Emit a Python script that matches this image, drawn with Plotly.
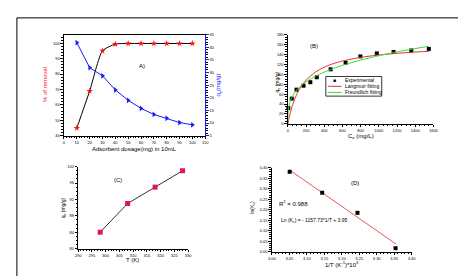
import plotly.graph_objects as go

W, H = 466, 276

# ---- Panel A data ----
dosage = [10, 20, 30, 40, 50, 60, 70, 80, 90, 100]
removal = [45, 69, 95, 99.4, 99.8, 99.8, 99.8, 99.8, 99.8, 99.8]
qe_dose = [41.8, 31.9, 28.7, 23.1, 19.0, 15.8, 13.4, 11.9, 10.2, 9.3]

# ---- Panel B data ----
ce = [5, 43, 95, 172, 247, 318, 470, 635, 797, 978, 1162, 1357, 1550]
qe_iso = [32, 51, 69, 77, 84, 94, 110, 123, 136, 142, 145, 148, 151]
ce_lang = [0, 10, 25, 50, 100, 150, 200, 300, 400, 500, 600, 800, 1000, 1200, 1400, 1550]
q_lang = [0, 9.2, 21.1, 37.4, 60.8, 76.7, 88.4, 104.1, 114.4, 121.5, 126.8, 134.1, 138.9, 142.2, 144.8, 146.3]
ce_freu = [0, 1, 3, 10, 25, 50, 100, 150, 200, 300, 400, 500, 600, 800, 1000, 1200, 1400, 1550]
q_freu = [0, 17.3, 24.0, 34.5, 45.4, 55.9, 68.9, 77.9, 84.8, 95.8, 104.4, 111.6, 117.9, 128.6, 137.4, 145.0, 151.8, 156.4]
legend_labels = ["Experimental", "Langmuir fitting", "Freundlich fitting"]

# ---- Panel C data ----
temp = [298, 308, 318, 328]
qe_temp = [84, 91, 95, 99]

# ---- Panel D data ----
inv_t = [3.051, 3.144, 3.245, 3.354]
ln_kc = [0.381, 0.281, 0.185, 0.016]
fit_x = [3.051, 3.356]
fit_y = [0.389, 0.035]

RED = "#e03030"
GREEN = "#33dd33"
BLUE = "#1a1aff"
FONT = "Arial, Liberation Sans, sans-serif"


def px(x):
    return x / W


def py(y):
    return 1 - y / H


TF = dict(family=FONT, size=4, color="black")


def axis(domain, rng, dtick, anchor, **kw):
    d = dict(domain=domain, range=rng, dtick=dtick, anchor=anchor,
             showline=True, linecolor="black", linewidth=1,
             ticks="outside", ticklen=2.5, tickwidth=0.8, tickcolor="black",
             showgrid=False, zeroline=False, tickfont=TF,
             minor=dict(ticks="outside", ticklen=1.5, tickwidth=0.6, tickcolor="black"))
    d.update(kw)
    return d


fig = go.Figure()

# Panel A
fig.add_trace(go.Scatter(x=dosage, y=removal, mode="lines+markers", xaxis="x", yaxis="y",
                         line=dict(color="black", width=1, shape="spline", smoothing=0.6),
                         marker=dict(symbol="star", size=5, color="#ff1010"),
                         showlegend=False, cliponaxis=False))
fig.add_trace(go.Scatter(x=dosage, y=qe_dose, mode="lines+markers", xaxis="x", yaxis="y2",
                         line=dict(color=BLUE, width=1),
                         marker=dict(symbol="triangle-right", size=5, color=BLUE),
                         showlegend=False, cliponaxis=False))

# Panel B
fig.add_trace(go.Scatter(x=ce, y=qe_iso, mode="markers", xaxis="x2", yaxis="y3",
                         marker=dict(symbol="square", size=4, color="black"),
                         name=legend_labels[0], showlegend=False, cliponaxis=False))
fig.add_trace(go.Scatter(x=ce_lang, y=q_lang, mode="lines", xaxis="x2", yaxis="y3",
                         line=dict(color=RED, width=1, shape="spline", smoothing=0.5),
                         name=legend_labels[1], showlegend=False))
fig.add_trace(go.Scatter(x=ce_freu, y=q_freu, mode="lines", xaxis="x2", yaxis="y3",
                         line=dict(color=GREEN, width=1, shape="spline", smoothing=0.5),
                         name=legend_labels[2], showlegend=False))

# Panel C
fig.add_trace(go.Scatter(x=temp, y=qe_temp, mode="lines+markers", xaxis="x3", yaxis="y4",
                         line=dict(color="black", width=0.8),
                         marker=dict(symbol="square", size=5, color="#e5106a"),
                         showlegend=False, cliponaxis=False))

# Panel D
fig.add_trace(go.Scatter(x=fit_x, y=fit_y, mode="lines", xaxis="x4", yaxis="y5",
                         line=dict(color=RED, width=0.8), showlegend=False))
fig.add_trace(go.Scatter(x=inv_t, y=ln_kc, mode="markers", xaxis="x4", yaxis="y5",
                         marker=dict(symbol="square", size=4, color="black"),
                         showlegend=False, cliponaxis=False))

# legend box for panel B (drawn in paper space)
LX0, LX1, LY0, LY1 = 320, 377, 66.7, 86.7
rows = [70.5, 76.7, 82.9]
shapes = [
    dict(type="rect", xref="paper", yref="paper", x0=px(5), x1=px(456), y0=py(271), y1=py(7),
         line=dict(color="black", width=1)),
    dict(type="rect", xref="paper", yref="paper", x0=px(LX0), x1=px(LX1), y0=py(LY1), y1=py(LY0),
         line=dict(color="black", width=0.8), fillcolor="white", layer="above"),
    dict(type="line", xref="paper", yref="paper", x0=px(322), x1=px(336), y0=py(rows[1]), y1=py(rows[1]),
         line=dict(color=RED, width=1), layer="above"),
    dict(type="line", xref="paper", yref="paper", x0=px(322), x1=px(336), y0=py(rows[2]), y1=py(rows[2]),
         line=dict(color=GREEN, width=1), layer="above"),
]

fig.update_layout(
    width=W, height=H, margin=dict(l=0, r=0, t=0, b=0),
    paper_bgcolor="white", plot_bgcolor="white", showlegend=False,
    xaxis=axis([px(53), px(197)], [0, 110], 10, "y", mirror=True),
    yaxis=axis([py(127), py(24)], [40, 105.6], 10, "x"),
    yaxis2=axis([py(127), py(24)], [5, 45], 5, "x", overlaying="y", side="right",
                linecolor=BLUE, tickcolor=BLUE),
    xaxis2=axis([px(281.3), px(429.7)], [0, 1600], 200, "y3"),
    yaxis3=axis([py(115), py(24)], [0, 180], 20, "x2"),
    xaxis3=axis([px(67.5), px(179.5)], [290, 330], 5, "y4"),
    yaxis4=axis([py(242), py(158.5)], [80, 100], 4, "x3"),
    xaxis4=axis([px(265), px(407.5)], [3.0, 3.4], 0.05, "y5", tickformat=".2f"),
    yaxis5=axis([py(245), py(159.7)], [0, 0.4], 0.05, "x4", tickformat=".2f"),
    shapes=shapes,
)

ann = []


def text(x, y, t, color="black", size=6, angle=0, xanchor="center"):
    ann.append(dict(x=px(x), y=py(y), xref="paper", yref="paper", text=t, showarrow=False,
                    textangle=angle, xanchor=xanchor, yanchor="middle",
                    font=dict(family=FONT, size=size, color=color)))


text(33, 75, "% of removal", color="#ff1010", size=6, angle=-90)
text(211, 75, "q<sub>e</sub>(mg/g)", color=BLUE, size=6, angle=-90)
text(125, 141, "Adsorbent dosage(mg) in 10mL", size=6)
text(133, 56, "A)", size=6)
text(308, 36, "(B)", size=6)
text(271, 72, "q<sub>e</sub> (mg/g)", size=5, angle=-90)
text(356, 128, "C<sub>e</sub> (mg/L)", size=6)
text(108, 172, "(C)", size=6)
text(52, 200, "q<sub>e</sub> (mg/g)", size=5, angle=-90)
text(123, 254, "T (K)", size=6)
text(350, 175, "(D)", size=6)
text(287, 196, "R<sup>2</sup> = 0.988", size=6)
text(308, 213, "Ln (K<sub>c</sub>) = - 1157.73*1/T + 3.95", size=5)
text(245, 200, "ln(K<sub>c</sub>)", size=5, angle=-90)
text(336, 258, "1/T (K<sup>-1</sup>)*10<sup>3</sup>", size=6)
# legend texts and experimental symbol
text(329, rows[0], "■", size=5)
for yy, lab in zip(rows, legend_labels):
    text(338, yy, lab, size=5, xanchor="left")

fig.update_layout(annotations=ann)
fig.write_html("out.html")
